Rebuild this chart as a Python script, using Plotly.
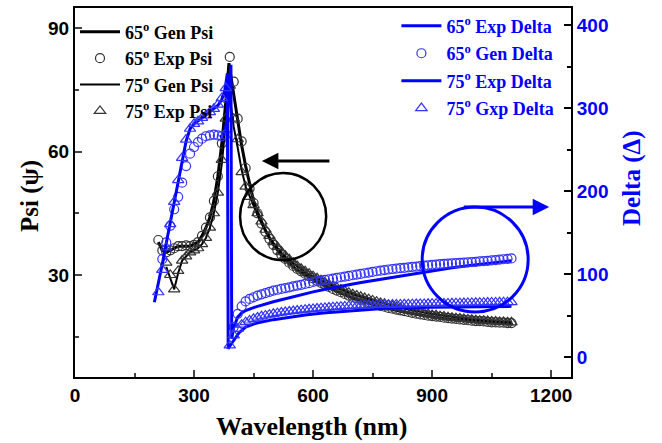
import plotly.graph_objects as go

# ---------------- data ----------------
wl = list(range(210, 1101, 10))  # marker wavelength grid (nm)

psi65_exp = [38.5, 36, 35.5, 36, 36.5, 37, 37, 37.2, 37, 37.3,
             38, 39.5, 41.5, 44, 48, 54, 62, 73, 83, 77,
             68, 62.5, 56, 51, 47.5, 45, 42.5, 40.5, 38.8, 37.3,
             36, 34.9, 33.9, 33, 32.2, 31.5, 30.9, 30.3, 29.7, 29.2,
             28.6, 28.1, 27.6, 27.1, 26.6, 26.2, 25.8, 25.4, 25, 24.7,
             24.3, 24, 23.7, 23.4, 23.1, 22.8, 22.5, 22.3, 22, 21.8,
             21.6, 21.4, 21.2, 21, 20.8, 20.6, 20.4, 20.3, 20.1, 20,
             19.9, 19.8, 19.6, 19.5, 19.4, 19.3, 19.2, 19.1, 19, 18.9,
             18.8, 18.8, 18.7, 18.6, 18.5, 18.5, 18.4, 18.4, 18.3, 18.3]

psi75_exp = [None, None, 33, 30, 26.5, 31, 33.5, 34.5, 35.5, 36,
             36.5, 37.5, 39, 41.5, 45, 50, 58, 68, 76, 68,
             63, 55, 51.5, 49, 47, 45, 43, 41, 39.5, 38,
             36.8, 35.7, 34.7, 33.8, 33, 32.2, 31.5, 30.9, 30.3, 29.7,
             29.2, 28.7, 28.2, 27.7, 27.3, 26.9, 26.5, 26.1, 25.7, 25.3,
             25, 24.7, 24.4, 24.1, 23.8, 23.5, 23.2, 23, 22.7, 22.4,
             22.2, 22, 21.7, 21.5, 21.3, 21.1, 20.9, 20.7, 20.5, 20.3,
             20.2, 20, 19.9, 19.7, 19.6, 19.5, 19.4, 19.3, 19.2, 19.1,
             19, 18.9, 18.9, 18.8, 18.7, 18.7, 18.6, 18.6, 18.5, 18.5]

delta65_gen = [None, 118, 138, 158, 178, 193, 210, 230, 245, 253,
               259, 263, 266, 267, 268, 267, 266, 268, None, 36,
               52, 61, 67, 70, 72, 74, 75.5, 77, 78.5, 80,
               81, 82, 83, 84, 85, 86, 87, 88, 89, 90.5,
               91.3, 92.1, 92.9, 93.7, 94.5, 95.3, 96.1, 96.9, 97.7, 98.5,
               99.3, 100.1, 100.9, 101.7, 102.5, 103.3, 104, 104.7, 105.4, 106,
               106.5, 107, 107.5, 108, 108.5, 109, 109.5, 110, 110.5, 111,
               111.4, 111.8, 112.2, 112.5, 112.8, 113.1, 113.4, 113.7, 114, 114.3,
               114.7, 115.1, 115.5, 115.9, 116.3, 116.8, 117.3, 117.8, 118.3, 118.8]

delta75_gxp = [78, 105, 132, 160, 187, 213, 240, 262, 275, 281,
               284, 288, 291, 295, 299, 304, 312, 324, 14, 26,
               34, 39, 42, 44, 46, 47.5, 49, 50, 51, 52,
               52.8, 53.5, 54.2, 54.8, 55.4, 56, 56.5, 57, 57.5, 58,
               58.4, 58.8, 59.2, 59.6, 60, 60.3, 60.6, 60.9, 61.2, 61.5,
               61.7, 61.9, 62.1, 62.3, 62.5, 62.7, 62.9, 63, 63.1, 63.2,
               63.3, 63.4, 63.5, 63.6, 63.7, 63.8, 63.9, 64, 64.1, 64.2,
               64.3, 64.4, 64.5, 64.6, 64.7, 64.8, 64.9, 65, 65.1, 65.2,
               65.3, 65.4, 65.5, 65.6, 65.7, 65.8, 65.9, 66, 66.1, 66.2]

# generated / fitted lines
wl_g65 = [210, 220, 230, 240, 250, 260, 270, 280, 290, 300, 310, 320, 330, 340,
          350, 360, 370, 380, 388, 395, 400, 410, 420, 430, 440, 450, 460, 470,
          480, 490, 500, 520, 540, 560, 580, 600, 630, 660, 700, 750, 800, 850,
          900, 950, 1000, 1050, 1100]
psi65_gen = [38, 36, 35.5, 36, 36.5, 37, 37, 37, 37, 37.5, 38, 39.5, 41.5, 44,
             48, 54, 62, 72, 81.5, 77, 74, 67, 61.5, 56.5, 52, 48, 45.3, 43,
             40.8, 39, 37.4, 34.8, 32.8, 31.2, 30, 28.9, 27.4, 26, 24.4, 22.8, 21.6, 20.6,
             19.8, 19.2, 18.8, 18.5, 18.3]

wl_g75 = [230, 240, 250, 260, 270, 280, 290, 300, 310, 320, 330, 340, 350, 360,
          370, 380, 386, 392, 400, 410, 420, 430, 440, 450, 460, 470, 480, 490,
          500, 520, 540, 560, 580, 600, 630, 660, 700, 750, 800, 850, 900, 950,
          1000, 1050, 1100]
psi75_gen = [32, 29, 26.5, 30.5, 33.5, 34.5, 35.5, 36, 36.5, 37.5, 39, 41.5, 45, 50,
             57, 67, 77, 72, 66, 61, 55.5, 51.5, 49, 46.5, 44.5, 42.5, 40.7, 39.2,
             37.8, 35.4, 33.5, 32, 30.7, 29.6, 28.1, 26.8, 25.3, 23.8, 22.5, 21.4, 20.5, 19.8,
             19.2, 18.8, 18.5]

wl_d65 = [365, 375, 383, 390, 393, 395, 400, 410, 420, 430, 440, 450, 460, 480,
          500, 520, 540, 560, 580, 600, 625, 650, 675, 700, 725, 750, 775, 800,
          850, 900, 950, 1000, 1050, 1100]
delta65_exp = [265, 268, 285, 330, 352, 22, 36, 48, 53, 56, 58, 59.5, 61, 64,
               66.5, 69, 71.5, 74, 76, 78.5, 81, 83.5, 85.5, 88, 90, 92, 94, 96,
               100, 104, 107.5, 110.5, 113.5, 116]

wl_d75 = [200, 210, 220, 230, 240, 250, 260, 270, 280, 290, 300, 320, 340, 360,
          370, 378, 384, 386, 390, 400, 413, 430, 458, 500, 542, 580, 625, 700,
          793, 900, 1000, 1100]
delta75_exp = [66, 88, 112, 137, 162, 186, 210, 236, 260, 275, 281, 288, 295, 303,
               310, 322, 342, 10, 13, 20, 29, 36, 41, 45, 48, 50.5, 53, 56,
               59, 60, 60.5, 61]

# ---------------- styling ----------------
BLUE = "#0000FF"
MBLUE = "#3333FF"
BLACK = "#000000"
SERIF = "Liberation Serif"
SANS = "Liberation Sans"

fig = go.Figure()

lg = dict(legend="legend")
fig.add_trace(go.Scatter(x=wl_g65, y=psi65_gen, mode="lines", name="65<sup>o</sup> Gen Psi",
                         line=dict(color=BLACK, width=3), legendgroup="a", **lg))
fig.add_trace(go.Scatter(x=wl, y=psi65_exp, mode="markers", name="65<sup>o</sup> Exp Psi",
                         marker=dict(symbol="circle-open", size=9, color="#333333", line=dict(width=1.2)),
                         legendgroup="b", **lg))
fig.add_trace(go.Scatter(x=wl_g75, y=psi75_gen, mode="lines", name="75<sup>o</sup> Gen Psi",
                         line=dict(color=BLACK, width=2), legendgroup="c", **lg))
fig.add_trace(go.Scatter(x=wl, y=psi75_exp, mode="markers", name="75<sup>o</sup> Exp Psi",
                         marker=dict(symbol="triangle-up-open", size=10, color="#333333", line=dict(width=1.2)),
                         legendgroup="d", **lg))

lg2 = dict(legend="legend2", yaxis="y2")
fig.add_trace(go.Scatter(x=wl_d65, y=delta65_exp, mode="lines", name="65<sup>o</sup> Exp Delta",
                         line=dict(color=BLUE, width=3), legendgroup="e", **lg2))
fig.add_trace(go.Scatter(x=wl, y=delta65_gen, mode="markers", name="65<sup>o</sup> Gen Delta",
                         marker=dict(symbol="circle-open", size=9, color=MBLUE, line=dict(width=1.2)),
                         legendgroup="f", **lg2))
fig.add_trace(go.Scatter(x=wl_d75, y=delta75_exp, mode="lines", name="75<sup>o</sup> Exp Delta",
                         line=dict(color=BLUE, width=3), legendgroup="g", **lg2))
fig.add_trace(go.Scatter(x=wl, y=delta75_gxp, mode="markers", name="75<sup>o</sup> Gxp Delta",
                         marker=dict(symbol="triangle-up-open", size=10, color=MBLUE, line=dict(width=1.2)),
                         legendgroup="h", **lg2))

tickfont_black = dict(family=SANS, size=19, color=BLACK, weight="bold")
tickfont_blue = dict(family=SANS, size=19, color=BLUE, weight="bold")

fig.update_layout(
    width=662, height=443,
    margin=dict(l=75, r=91, t=8, b=66, autoexpand=False),
    paper_bgcolor="white", plot_bgcolor="white",
    showlegend=True,
    xaxis=dict(range=[0, 1250], tickvals=[0, 300, 600, 900, 1200], ticks="inside", ticklen=7,
               tickwidth=2, showline=True, linecolor=BLACK, linewidth=2, mirror=True,
               showgrid=False, zeroline=False, tickfont=tickfont_black,
               minor=dict(ticks="inside", ticklen=4, tickwidth=2, dtick=150, tick0=0, showgrid=False)),
    yaxis=dict(range=[5.2, 94.9], tickvals=[30, 60, 90], ticks="inside", ticklen=7, tickwidth=2,
               showline=True, linecolor=BLACK, linewidth=2, showgrid=False, zeroline=False,
               tickfont=tickfont_black,
               minor=dict(ticks="inside", ticklen=4, tickwidth=2, dtick=15, tick0=0, showgrid=False)),
    yaxis2=dict(range=[-24.1, 420.5], tickvals=[0, 100, 200, 300, 400], overlaying="y", side="right",
                ticks="inside", ticklen=7, tickwidth=2, tickcolor=BLACK,
                showline=True, linecolor=BLACK, linewidth=2, showgrid=False, zeroline=False,
                tickfont=tickfont_blue,
                minor=dict(ticks="inside", ticklen=4, tickwidth=2, dtick=50, tick0=0, showgrid=False,
                           tickcolor=BLACK)),
    legend=dict(x=0.0, y=0.985, xanchor="left", yanchor="top", bgcolor="rgba(0,0,0,0)",
                font=dict(family=SERIF, size=18, color=BLACK, weight="bold"),
                tracegroupgap=0, itemwidth=40),
    legend2=dict(x=0.648, y=1.001, xanchor="left", yanchor="top", bgcolor="rgba(0,0,0,0)",
                 font=dict(family=SERIF, size=18, color=BLUE, weight="bold"),
                 tracegroupgap=1, itemwidth=40),
    shapes=[
        dict(type="circle", xref="x", yref="y", x0=416, x1=633, y0=33.6, y1=54.8,
             line=dict(color=BLACK, width=2.5)),
        dict(type="circle", xref="x", yref="y2", x0=875, x1=1142, y0=54.2, y1=180.7,
             line=dict(color=BLUE, width=3)),
    ],
    annotations=[
        dict(x=471, y=57.7, xref="x", yref="y", ax=645, ay=57.7, axref="x", ayref="y",
             showarrow=True, arrowhead=2, arrowsize=1.1, arrowwidth=3, arrowcolor=BLACK, text=""),
        dict(x=1195, y=180.7, xref="x", yref="y2", ax=976, ay=180.7, axref="x", ayref="y2",
             showarrow=True, arrowhead=2, arrowsize=1.1, arrowwidth=3, arrowcolor=BLUE, text=""),
        dict(text="Wavelength (nm)", xref="paper", yref="paper", x=(311 - 75) / 496, y=-0.135,
             xanchor="center", yanchor="middle", showarrow=False,
             font=dict(family=SERIF, size=26, color=BLACK, weight="bold")),
        dict(text="Psi (ψ)", xref="paper", yref="paper", x=-(75 - 30) / 496, y=1 - (196 - 8) / 369,
             xanchor="center", yanchor="middle", showarrow=False, textangle=-90,
             font=dict(family=SERIF, size=25, color=BLACK, weight="bold")),
        dict(text="Delta (Δ)", xref="paper", yref="paper", x=1 + (632 - 571) / 496, y=1 - (178 - 8) / 369,
             xanchor="center", yanchor="middle", showarrow=False, textangle=-90,
             font=dict(family=SERIF, size=25, color=BLUE, weight="bold")),
    ],
)

fig.write_html("out.html")
